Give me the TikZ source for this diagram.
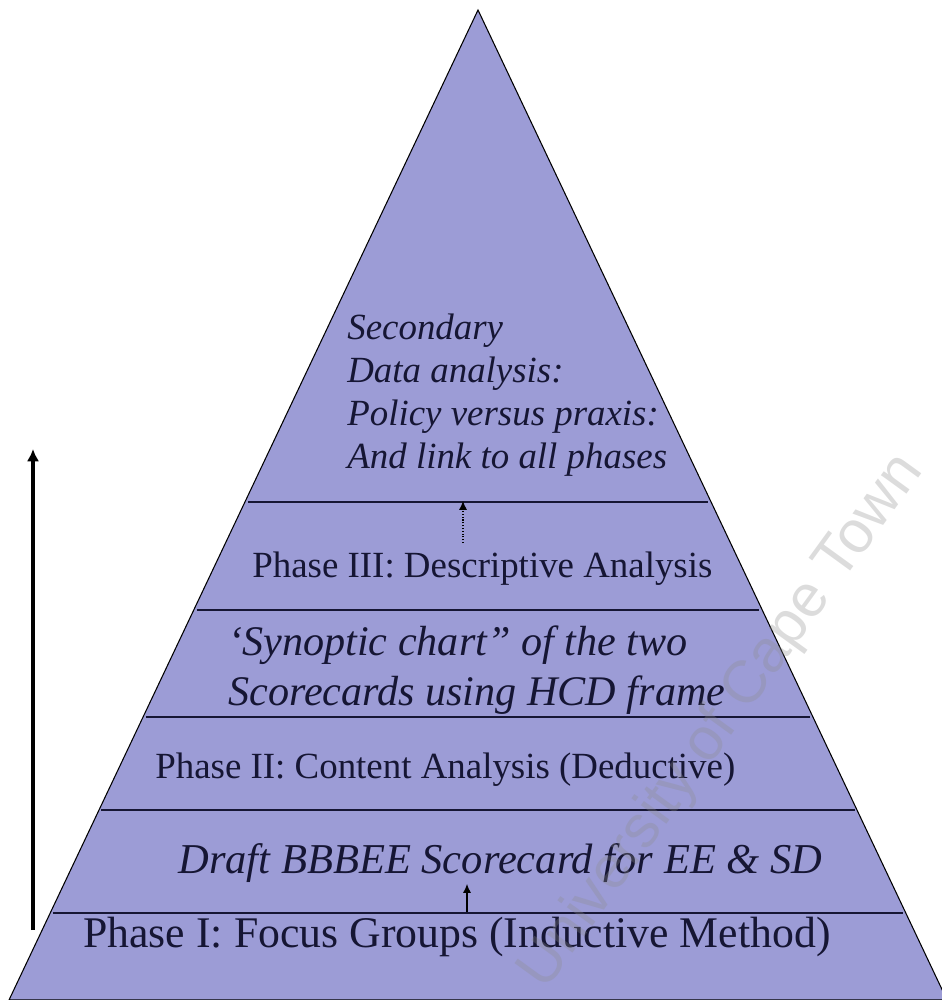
\documentclass[tikz,border=0pt]{standalone}
\usepackage{fontspec}
\setmainfont{Liberation Serif}
\newfontfamily\wmfont{Liberation Sans}
\usepackage{tikz}
\usetikzlibrary{%
	arrows.meta,% wg. Latex[length=..]
	calc
}
\definecolor{pyramidfill}{RGB}{156,156,214}
\definecolor{ink}{RGB}{22,22,52}
\tikzstyle{pyramid} = [fill=pyramidfill, draw=black, line width=0.6pt]
\tikzstyle{layer} = [draw=ink, line width=1.4pt]
\tikzstyle{thinlayer} = [draw=ink, line width=0.7pt]
\tikzstyle{phase} = [inner sep=0pt, anchor=base west, text=ink]
\tikzstyle{phaseit} = [phase, align=left]
\tikzstyle{bigarrow} = [draw=black, line width=2.2pt, -{Latex[length=7pt,width=7pt]}]
\tikzstyle{smallarrow} = [draw=black, line width=0.6pt, -{Latex[length=5pt,width=4.5pt]}]
\tikzstyle{watermark} = [font=\wmfont\fontsize{34}{34}\selectfont, text=black!45, opacity=0.3, rotate=54]

\begin{document}
\begin{tikzpicture}[x=0.02cm, y=-0.02cm]
	\useasboundingbox (0,0) rectangle (942,1000);
	
	% First we draw the pyramid
	\coordinate (apex) at (478,10);
	\coordinate (baseleft) at (9,1000);
	\coordinate (baseright) at (947,1000);
	\path[pyramid] (apex) -- (baseleft) -- (baseright) -- cycle;
	
	% Then the lines between the layers
	\foreach \y/\name in {502/one, 610/two, 717/three, 913/five}
	\draw[layer] ({478-0.474*(\y-10)+3},\y) coordinate (\name-l) -- ({478+0.474*(\y-10)-3},\y) coordinate (\name-r);
	\draw[thinlayer] ({478-0.474*800+2},810) coordinate (four-l) -- ({478+0.474*800-2},810) coordinate (four-r);
	
	% Texts of the layers (base = last line)
	\node[phaseit, font=\itshape\fontsize{21}{24.4}\selectfont] (secondary) at (347,468)
		{Secondary\\Data analysis:\\Policy versus praxis:\\And link to all phases};
	\node[phase, font=\fontsize{21}{24}\selectfont] (phaseIII) at (252,577) {Phase III: Descriptive Analysis};
	\node[phaseit, font=\itshape\fontsize{24}{28.3}\selectfont] (synoptic) at (228,705)
		{‘Synoptic chart” of the two\\Scorecards using HCD frame};
	\node[phase, font=\fontsize{21}{24}\selectfont] (phaseII) at (155,778) {Phase II: Content Analysis (Deductive)};
	\node[phase, font=\itshape\fontsize{24.2}{28}\selectfont] (draft) at (178,873) {Draft BBBEE Scorecard for EE \& SD};
	\node[phase, font=\fontsize{24.9}{28}\selectfont] (phaseI) at (83,947) {Phase I: Focus Groups (Inductive Method)};
	
	% Small arrows between the layers
	\coordinate (upfoot) at (463,543);
	\coordinate (uptip) at (463,501);
	\path[smallarrow, densely dotted] (upfoot) -- (uptip);
	\coordinate (lowfoot) at (467,912);
	\coordinate (lowtip) at (467,884);
	\path[smallarrow] (lowfoot) -- (lowtip);
	
	% Draw the long arrow on the left
	\coordinate (start) at (33,930);
	\coordinate (goal) at (33,449);
	\path[bigarrow] (start) -- (goal);
	
	% Watermark
	\node[watermark] (wm) at (722,722) {University of Cape Town};
\end{tikzpicture}
\end{document}
